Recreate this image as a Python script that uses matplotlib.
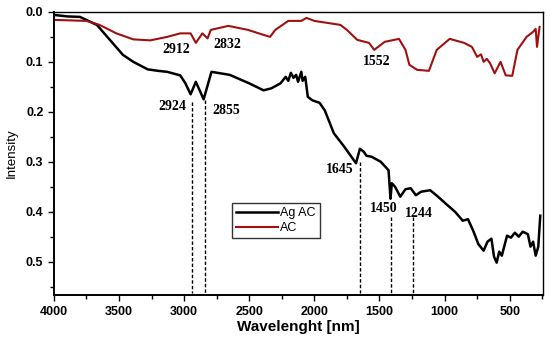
import matplotlib
matplotlib.use("Agg")
import matplotlib.pyplot as plt
from matplotlib.ticker import MultipleLocator, FormatStrFormatter

# Ag AC curve (wavenumber, intensity)
agac_x = [4000, 3900, 3800, 3670, 3570, 3470, 3390, 3280, 3200, 3130, 3030, 2990, 2950,
          2910, 2850, 2790, 2650, 2500, 2390, 2330, 2260, 2220, 2200, 2180, 2160, 2140,
          2125, 2100, 2090, 2070, 2050, 2015, 1960, 1920, 1850, 1770, 1680, 1650, 1620,
          1600, 1560, 1490, 1430, 1415, 1405, 1380, 1340, 1300, 1260, 1220, 1180, 1110,
          1050, 990, 920, 860, 820, 780, 740, 700, 670, 640, 620, 600, 580, 560, 520,
          490, 460, 430, 400, 360, 340, 320, 300, 280, 265]
agac_y = [0.006, 0.009, 0.010, 0.026, 0.056, 0.086, 0.100, 0.115, 0.118, 0.120, 0.127,
          0.143, 0.165, 0.140, 0.175, 0.120, 0.126, 0.143, 0.157, 0.153, 0.143, 0.130,
          0.138, 0.122, 0.132, 0.126, 0.140, 0.120, 0.138, 0.130, 0.170, 0.177, 0.182,
          0.197, 0.243, 0.270, 0.303, 0.274, 0.280, 0.288, 0.290, 0.300, 0.317, 0.374,
          0.343, 0.350, 0.370, 0.355, 0.353, 0.367, 0.360, 0.357, 0.370, 0.384, 0.400,
          0.418, 0.415, 0.438, 0.465, 0.478, 0.460, 0.454, 0.490, 0.502, 0.480, 0.488,
          0.448, 0.452, 0.442, 0.450, 0.440, 0.445, 0.470, 0.460, 0.488, 0.470, 0.408]

# AC curve
ac_x = [4000, 3750, 3650, 3520, 3390, 3260, 3130, 3030, 2950, 2910, 2860, 2820, 2795,
        2660, 2510, 2390, 2340, 2300, 2200, 2100, 2060, 2000, 1800, 1750, 1670, 1580,
        1540, 1460, 1350, 1300, 1270, 1210, 1120, 1060, 960, 850, 790, 750, 720, 700,
        675, 650, 615, 570, 530, 480, 440, 370, 320, 300, 290, 270]
ac_y = [0.016, 0.018, 0.026, 0.043, 0.055, 0.057, 0.050, 0.043, 0.043, 0.062, 0.043,
        0.053, 0.036, 0.028, 0.036, 0.046, 0.050, 0.036, 0.018, 0.018, 0.012, 0.018,
        0.026, 0.036, 0.056, 0.062, 0.076, 0.060, 0.054, 0.076, 0.106, 0.116, 0.118,
        0.076, 0.054, 0.062, 0.070, 0.090, 0.085, 0.100, 0.094, 0.103, 0.123, 0.100,
        0.127, 0.128, 0.076, 0.050, 0.040, 0.034, 0.070, 0.030]

# annotations
ann_text = ["2912", "2832", "1552", "2924", "2855", "1645", "1450", "1244"]
ann_x = [3060, 2665, 1523, 3087, 2673, 1806, 1469, 1200]
ann_y = [0.076, 0.066, 0.100, 0.189, 0.197, 0.315, 0.394, 0.404]

# dashed marker lines (position, top)
vl_x = [2940, 2840, 1650, 1410, 1240]
vl_top = [0.180, 0.177, 0.300, 0.410, 0.410]
vl_bottom = 0.562

fig = plt.figure(figsize=(5.5, 3.4), dpi=100)
ax = fig.add_axes([0.098, 0.132, 0.889, 0.833])

ax.plot(agac_x, agac_y, color="black", lw=1.8, label="Ag AC")
ax.plot(ac_x, ac_y, color="#A01010", lw=1.5, label="AC")

for x, t in zip(vl_x, vl_top):
    ax.plot([x, x], [t, vl_bottom], color="black", lw=1.0, ls=(0, (2.5, 1.5)))

for t, x, y in zip(ann_text, ann_x, ann_y):
    ax.text(x, y, t, ha="center", va="center", fontsize=10, fontweight="bold",
            family="Liberation Serif")

ax.set_xlim(4000, 245)
ax.set_ylim(0.567, 0.0)
ax.xaxis.set_major_locator(MultipleLocator(500))
ax.xaxis.set_minor_locator(MultipleLocator(250))
ax.yaxis.set_major_locator(MultipleLocator(0.1))
ax.yaxis.set_minor_locator(MultipleLocator(0.05))
ax.yaxis.set_major_formatter(FormatStrFormatter("%.1f"))
ax.tick_params(which="both", direction="out", width=1.0)
ax.tick_params(which="major", length=4, labelsize=9)
ax.tick_params(which="minor", length=3)
for lab in ax.get_xticklabels() + ax.get_yticklabels():
    lab.set_fontweight("bold")
    lab.set_family("Liberation Sans")
for s in ax.spines.values():
    s.set_linewidth(1.0)
ax.spines["bottom"].set_linewidth(1.4)
ax.spines["left"].set_linewidth(1.4)

ax.set_xlabel("Wavelenght [nm]", fontsize=11, fontweight="bold", family="Liberation Sans",
              labelpad=2)
ax.set_ylabel("Intensity", fontsize=9.5, family="Liberation Sans", labelpad=6)

leg = ax.legend(loc="upper left", bbox_to_anchor=(0.364, 0.325),
                prop={"family": "Liberation Sans", "size": 9},
                frameon=True, fancybox=False, handlelength=3.3, handletextpad=0.2,
                borderpad=0.35, labelspacing=0.2, borderaxespad=0)
leg.get_frame().set_edgecolor("black")
leg.get_frame().set_linewidth(1.0)

fig.savefig("out.png", dpi=100)
